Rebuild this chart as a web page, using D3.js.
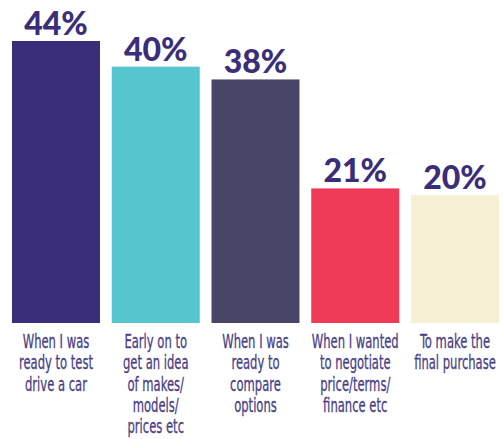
<!DOCTYPE html>
<html>
<head>
<meta charset="utf-8">
<script src="https://cdn.jsdelivr.net/npm/d3@7"></script>
<style>
  body { margin: 0; background: #fff; }
  .val { font-family: "Lato", "DejaVu Sans", sans-serif; font-weight: 900; }
  .cat { font-family: "DejaVu Sans Condensed", "DejaVu Sans", sans-serif; font-stretch: condensed; }
</style>
</head>
<body>
<script>
var categories = ["A", "B", "C", "D", "E"];
var values = [44, 40, 38, 21, 20];
var valueLabels = ["44%", "40%", "38%", "21%", "20%"];
var catLabels = [
  ["When I was", "ready to test", "drive a car"],
  ["Early on to", "get an idea", "of makes/", "models/", "prices etc"],
  ["When I was", "ready to", "compare", "options"],
  ["When I wanted", "to negotiate", "price/terms/", "finance etc"],
  ["To make the", "final purchase"]
];
var colours = ["#3a2e7a", "#55c5cf", "#474667", "#ee3957", "#f6f0d4"];

var W = 503, H = 439;
var svg = d3.select("body").append("svg").attr("width", W).attr("height", H);

var x = d3.scaleBand().domain(categories).range([12, 499]).paddingInner(0.118).paddingOuter(0);
var y = d3.scaleLinear().domain([0, 44]).range([323, 41]);

svg.selectAll("rect.bar").data(values).enter().append("rect")
  .attr("class", "bar")
  .attr("x", function(d, i) { return x(categories[i]); })
  .attr("y", function(d) { return y(d); })
  .attr("width", x.bandwidth())
  .attr("height", function(d) { return y(0) - y(d); })
  .attr("fill", function(d, i) { return colours[i]; });

svg.selectAll("text.val").data(values).enter().append("text")
  .attr("class", "val")
  .attr("x", function(d, i) { return x(categories[i]) + x.bandwidth() / 2; })
  .attr("y", function(d) { return y(d) - 6; })
  .attr("text-anchor", "middle")
  .attr("font-size", 32)
  .attr("fill", "#3a2e7a")
  .text(function(d, i) { return valueLabels[i]; });

// condensed look: squeeze labels so "When I wanted" is ~87px wide
var probe = svg.append("text").attr("class", "cat").attr("font-size", 19).text("When I wanted");
var sx = 87 / probe.node().getComputedTextLength();
probe.remove();

var g = svg.selectAll("text.cat").data(catLabels).enter().append("text")
  .attr("class", "cat")
  .attr("text-anchor", "middle")
  .attr("font-size", 19)
  .attr("fill", "#4a3f86")
  .attr("stroke", "#4a3f86")
  .attr("stroke-width", 0.3)
  .attr("transform", function(d, i) { return "translate(" + (x(categories[i]) + x.bandwidth() / 2) + ",348) scale(" + sx + ",1)"; });

g.selectAll("tspan").data(function(d) { return d; }).enter().append("tspan")
  .attr("x", 0)
  .attr("y", function(d, i) { return i * 21.3; })
  .text(function(d) { return d; });
</script>
</body>
</html>
